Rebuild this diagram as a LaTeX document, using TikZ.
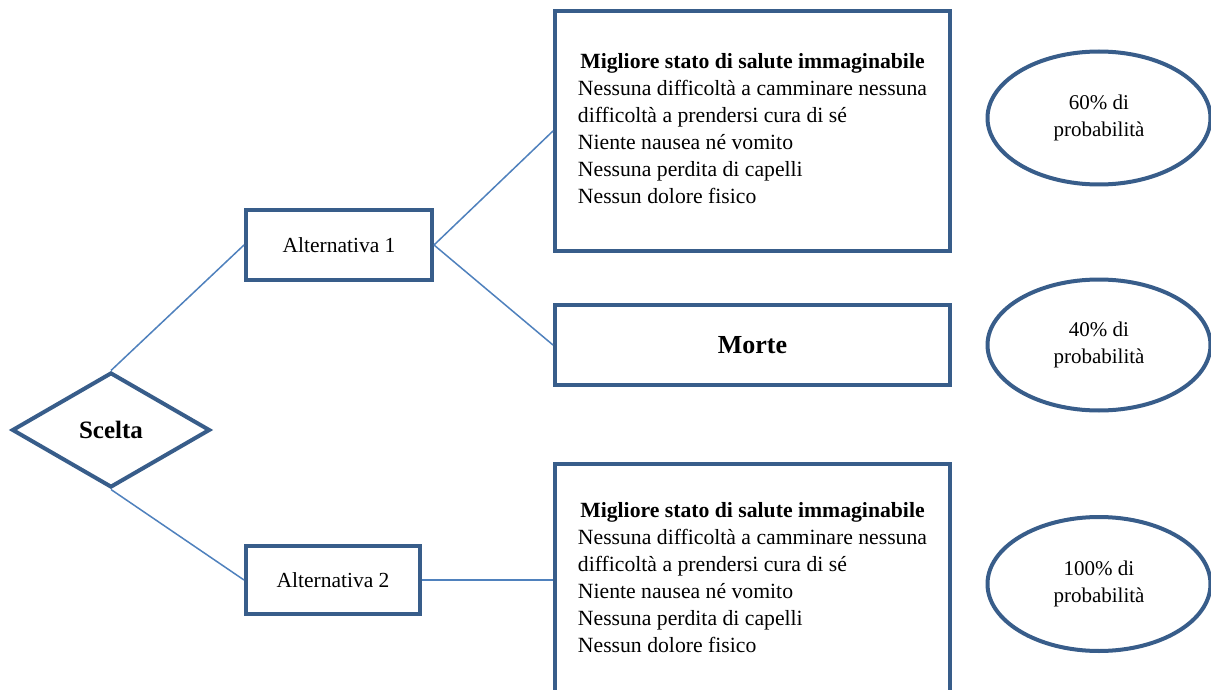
\documentclass[tikz,border=0pt]{standalone}
\usepackage{fontspec}
\setmainfont{Liberation Serif}
\usetikzlibrary{shapes.geometric}
\definecolor{boxblue}{RGB}{56,93,138}
\definecolor{lineblue}{RGB}{79,129,189}
\tikzset{
  frame/.style={draw=boxblue,line width=4pt,fill=white,inner sep=0pt},
  rbox/.style={frame,rectangle},
  oval/.style={frame,ellipse,align=center,font=\fontsize{21}{27}\selectfont},
  link/.style={draw=lineblue,line width=1.5pt},
}
\newcommand{\bodytext}{\fontsize{21.7}{27}\selectfont
\begin{tabular}{@{}l@{}}
\multicolumn{1}{@{}c@{}}{\textbf{Migliore stato di salute immaginabile}}\\
Nessuna difficoltà a camminare nessuna\\
difficoltà a prendersi cura di sé\\
Niente nausea né vomito\\
Nessuna perdita di capelli\\
Nessun dolore fisico
\end{tabular}}
\begin{document}
\begin{tikzpicture}[x=1pt,y=-1pt]
\clip (0,0) rectangle (1211,690);
\fill[white] (0,0) rectangle (1211,690);
% nodes
\node[frame,diamond,minimum width=198pt,minimum height=115pt,font=\fontsize{25}{30}\selectfont\bfseries] (scelta) at (111,430) {Scelta};
\node[rbox,minimum width=186pt,minimum height=69pt,font=\fontsize{21.5}{24}\selectfont] (alt1) at (339,245) {Alternativa 1};
\node[rbox,minimum width=174pt,minimum height=68pt,font=\fontsize{21.5}{24}\selectfont] (alt2) at (333,580) {Alternativa 2};
\node[rbox,minimum width=395pt,minimum height=240pt] (top) at (752.5,131) {\bodytext};
\node[rbox,minimum width=395pt,minimum height=80pt,font=\fontsize{26}{30}\selectfont\bfseries] (morte) at (752.5,345) {Morte};
\node[rbox,minimum width=395pt,minimum height=232pt] (bot) at (752.5,580) {\bodytext};
\node[oval,minimum width=223pt,minimum height=133pt] (p60) at (1099,118) {60\% di\\probabilità};
\node[oval,minimum width=223pt,minimum height=131pt] (p40) at (1099,345) {40\% di\\probabilità};
\node[oval,minimum width=223pt,minimum height=134pt] (p100) at (1099,584) {100\% di\\probabilità};
% connectors
\path[link] (scelta.north) -- (alt1.west);
\path[link] (scelta.south) -- (alt2.west);
\path[link] (alt1.east) -- (top.west);
\path[link] (alt1.east) -- (morte.west);
\path[link] (alt2.east) -- (bot.west);
\end{tikzpicture}
\end{document}
